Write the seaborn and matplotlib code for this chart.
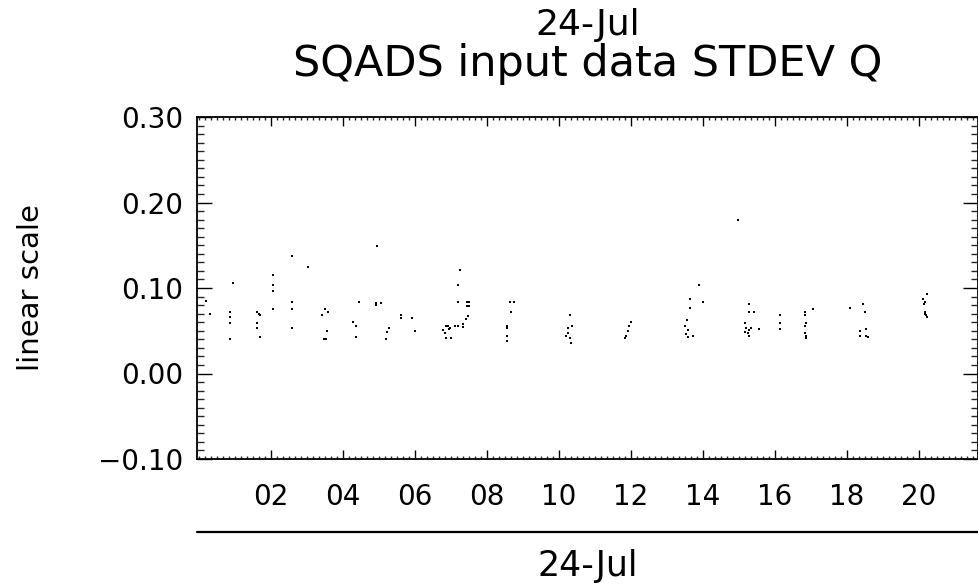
#=====================================================================================================
# Program Name     : SqadsStdevQScatter
# Description      : Scatter of SQADS input data STDEV Q against hour of day (24-Jul),
#                    drawn in the look of an IDL plot.
# Output           : out.png
#=====================================================================================================

import numpy as np
import pandas as pd
import matplotlib
matplotlib.use("Agg")
import matplotlib.pyplot as plt
from matplotlib.ticker import MultipleLocator, FixedLocator, FuncFormatter
from matplotlib.lines import Line2D
import seaborn as sns

# hour of day (24-Jul) for each sample
Hours = [
    0.20, 0.30,
    0.95, 0.88, 0.88, 0.88, 0.88,
    1.62, 1.66, 1.70, 1.63, 1.63, 1.69,
    2.07, 2.07, 2.07, 2.07,
    2.59, 2.59, 2.59, 2.59,
    3.04, 3.41, 3.52, 3.60, 3.56, 3.47, 3.54,
    4.44, 4.28, 4.36, 4.36,
    4.96, 4.91, 4.91, 5.07, 5.28, 5.24, 5.19,
    5.63, 5.63, 5.93, 6.00,
    6.78, 6.85, 6.88, 7.02, 6.92, 6.95,
    6.88, 6.97, 7.11, 7.20, 7.33, 7.34, 7.48, 7.42,
    7.27, 7.19, 7.19, 7.44, 7.51, 7.44, 7.51,
    8.55, 8.55, 8.55, 8.55, 8.66, 8.75, 8.67,
    10.31, 10.26, 10.38, 10.26, 10.21, 10.31, 10.33,
    12.00, 11.95, 11.93, 11.88, 11.83,
    13.64, 13.64, 13.56, 13.50, 13.59, 13.55, 13.59, 13.73, 13.90, 14.00,
    14.98,
    15.28, 15.28, 15.42, 15.19, 15.21, 15.29, 15.33, 15.19, 15.26, 15.28, 15.56,
    16.16, 16.16, 16.16,
    16.83, 16.83, 16.88, 16.83, 16.83, 16.88, 16.88, 17.06,
    18.08, 18.45, 18.52, 18.38, 18.53, 18.38, 18.53, 18.59,
    20.23, 20.12, 20.17, 20.15, 20.17, 20.19, 20.21, 20.23,
]

# STDEV Q for each sample
StdevQ = [
    0.085, 0.070,
    0.106, 0.072, 0.066, 0.059, 0.040,
    0.072, 0.070, 0.068, 0.059, 0.053, 0.043,
    0.115, 0.103, 0.096, 0.075,
    0.137, 0.084, 0.075, 0.053,
    0.125, 0.068, 0.075, 0.072, 0.050, 0.040, 0.040,
    0.084, 0.060, 0.056, 0.043,
    0.149, 0.082, 0.080, 0.082, 0.053, 0.049, 0.040,
    0.068, 0.065, 0.065, 0.050,
    0.051, 0.047, 0.042, 0.042, 0.055, 0.052,
    0.055, 0.053, 0.056, 0.055, 0.058, 0.054, 0.067, 0.064,
    0.121, 0.103, 0.084, 0.0835, 0.084, 0.079, 0.079,
    0.0556, 0.053, 0.044, 0.038, 0.084, 0.084, 0.072,
    0.068, 0.053, 0.056, 0.047, 0.044, 0.041, 0.036,
    0.0605, 0.056, 0.050, 0.044, 0.042,
    0.087, 0.077, 0.062, 0.056, 0.051, 0.046, 0.043, 0.044, 0.103, 0.084,
    0.180,
    0.081, 0.072, 0.072, 0.059, 0.053, 0.051, 0.053, 0.049, 0.047, 0.044, 0.052,
    0.068, 0.059, 0.052,
    0.072, 0.068, 0.059, 0.055, 0.047, 0.044, 0.042, 0.075,
    0.077, 0.081, 0.072, 0.050, 0.052, 0.044, 0.044, 0.043,
    0.093, 0.087, 0.084, 0.081, 0.072, 0.070, 0.068, 0.066,
]

X_Ticks = [2, 4, 6, 8, 10, 12, 14, 16, 18, 20]
Y_Ticks = [-0.10, 0.00, 0.10, 0.20, 0.30]
Date_Label = "24-Jul"
Title_Text = "SQADS input data STDEV Q"
Y_Label = "linear scale"


def fmt_y(v, p):
    # IDL style label, long minus sign
    return ("%.2f" % v).replace("-", "\u2212")


def plot_stdev_q():
    sns.set_style("ticks")
    plt.rcParams["font.family"] = ["DejaVu Sans"]
    plt.rcParams["text.color"] = "black"
    plt.rcParams["axes.labelcolor"] = "black"

    df = pd.DataFrame({"hour": Hours, "stdev_q": StdevQ})

    fig = plt.figure(figsize=(9.79, 5.87), dpi=100)
    ax = fig.add_axes([197 / 979, 1 - 459 / 587, 781 / 979, 342 / 587])

    sns.scatterplot(data=df, x="hour", y="stdev_q", ax=ax, color="black",
                    marker="s", s=4.5, linewidth=0, legend=False)

    ax.set_xlim(-0.05, 21.65)
    ax.set_ylim(-0.10, 0.30)

    ax.xaxis.set_major_locator(FixedLocator(X_Ticks))
    ax.xaxis.set_minor_locator(MultipleLocator(1 / 6))
    ax.xaxis.set_major_formatter(FuncFormatter(lambda v, p: "%02d" % int(round(v))))
    ax.yaxis.set_major_locator(FixedLocator(Y_Ticks))
    ax.yaxis.set_minor_locator(MultipleLocator(0.01))
    ax.yaxis.set_major_formatter(FuncFormatter(fmt_y))

    for side in ["left", "right", "top", "bottom"]:
        ax.spines[side].set_visible(True)
        ax.spines[side].set_linewidth(1.3)
        ax.spines[side].set_color("black")

    ax.tick_params(axis="x", which="major", direction="in", length=6.5, width=1.0,
                   top=True, bottom=True, labelsize=20, pad=17, colors="black")
    ax.tick_params(axis="x", which="minor", direction="in", length=2.5, width=1.0,
                   top=True, bottom=True)
    ax.tick_params(axis="y", which="major", direction="in", length=11, width=1.0,
                   left=True, right=True, labelsize=20, pad=10, colors="black")
    ax.tick_params(axis="y", which="minor", direction="in", length=5, width=1.0,
                   left=True, right=True)

    ax.set_xlabel("")
    ax.set_ylabel(Y_Label, fontsize=21)
    ax.yaxis.set_label_coords(-0.194, 0.5)

    xc = (197 + 979) / 2 / 979
    fig.text(xc, 1 - 25 / 587, Date_Label, ha="center", va="center", fontsize=26)
    fig.text(xc, 1 - 64 / 587, Title_Text, ha="center", va="center", fontsize=31)
    fig.text(xc, 1 - 566 / 587, Date_Label, ha="center", va="center", fontsize=25)

    fig.add_artist(Line2D([197 / 979, 1.0], [1 - 532 / 587, 1 - 532 / 587],
                          transform=fig.transFigure, color="black", linewidth=1.6))

    fig.savefig("out.png", dpi=100)


def main():
    plot_stdev_q()


if __name__ == "__main__":
    main()
